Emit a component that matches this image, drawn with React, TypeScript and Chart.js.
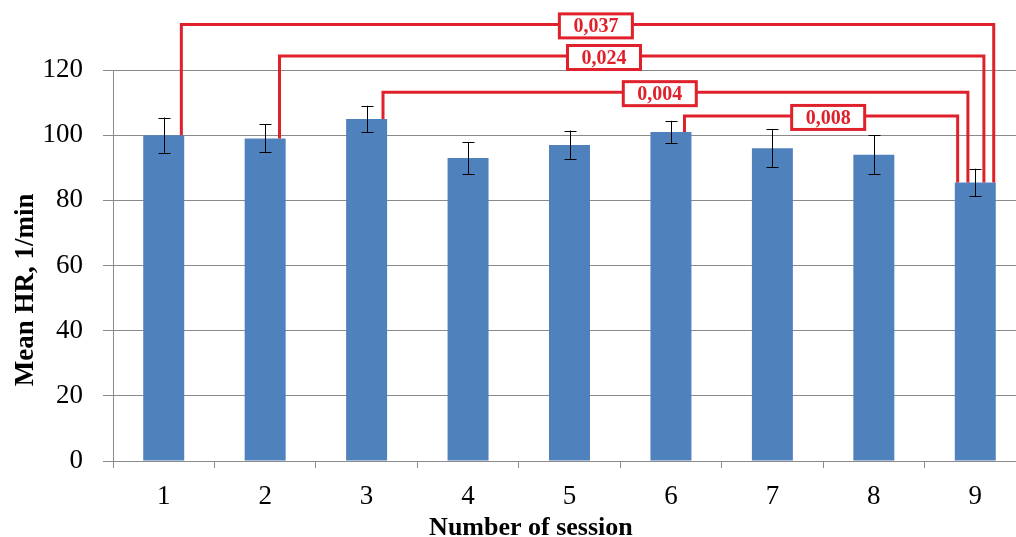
import { useEffect, useRef } from "react";
import { Chart, registerables } from "chart.js";

Chart.register(...registerables);

// Mean heart rate per session with standard deviation
const sessions = ["1", "2", "3", "4", "5", "6", "7", "8", "9"];
const meanHR = [100, 99, 105, 93, 97, 101, 96, 94, 85.5];
const sdHR = [5.4, 4.3, 4, 4.9, 4.4, 3.4, 5.8, 5.9, 4.2];
const yTicks = [0, 20, 40, 60, 80, 100, 120];

// Significant pairwise differences (session index pairs and p-values)
const pairFrom = [0, 1, 2, 5];
const pairTo = [8, 8, 8, 8];
const pValues = ["0,037", "0,024", "0,004", "0,008"];

// Drawing style for the significance brackets
const bracketLevels = [134, 124.3, 113.2, 105.9];
const startOffsets = [0.43, 0.35, 0.4, 0.33];
const endOffsets = [0.45, 0.21, -0.18, -0.43];
const labelCenters = [4.26, 4.34, 4.89, 6.55];

const X_TITLE = "Number of session";
const Y_TITLE = "Mean HR, 1/min";

const SERIF = "'Liberation Serif', 'Times New Roman', serif";
const RED = "#e0212b";
const GRID = "#8a8a8a";

const overlayPlugin = {
  id: "overlay",
  afterDatasetsDraw(chart: any) {
    const { ctx } = chart;
    const xs = chart.scales.x;
    const ys = chart.scales.y;
    const meta = chart.getDatasetMeta(0);

    // error bars
    ctx.save();
    ctx.strokeStyle = "#000";
    ctx.lineWidth = 1;
    meta.data.forEach((bar: any, i: number) => {
      const cx = Math.round(bar.x) + 0.5;
      const top = ys.getPixelForValue(meanHR[i] + sdHR[i]);
      const bot = ys.getPixelForValue(meanHR[i] - sdHR[i]);
      const cap = 6;
      ctx.beginPath();
      ctx.moveTo(cx, top);
      ctx.lineTo(cx, bot);
      ctx.moveTo(cx - cap, Math.round(top) + 0.5);
      ctx.lineTo(cx + cap, Math.round(top) + 0.5);
      ctx.moveTo(cx - cap, Math.round(bot) + 0.5);
      ctx.lineTo(cx + cap, Math.round(bot) + 0.5);
      ctx.stroke();
    });
    ctx.restore();

    // significance brackets
    ctx.save();
    ctx.strokeStyle = RED;
    ctx.lineWidth = 3;
    ctx.lineJoin = "miter";
    pairFrom.forEach((a, k) => {
      const b = pairTo[k];
      const barA = meta.data[a];
      const barB = meta.data[b];
      const xa = barA.x + barA.width * startOffsets[k];
      const xb = barB.x + barB.width * endOffsets[k];
      const yl = ys.getPixelForValue(bracketLevels[k]);
      ctx.beginPath();
      ctx.moveTo(xa, ys.getPixelForValue(meanHR[a]));
      ctx.lineTo(xa, yl);
      ctx.lineTo(xb, yl);
      ctx.lineTo(xb, ys.getPixelForValue(meanHR[b]));
      ctx.stroke();
    });
    ctx.font = `bold 20px ${SERIF}`;
    ctx.textAlign = "center";
    ctx.textBaseline = "middle";
    pValues.forEach((txt, k) => {
      const cx = xs.getPixelForValue(labelCenters[k]);
      const cy = ys.getPixelForValue(bracketLevels[k]) + 1.5;
      const w = 73;
      const h = 24;
      ctx.fillStyle = "#fff";
      ctx.fillRect(cx - w / 2, cy - h / 2, w, h);
      ctx.strokeRect(cx - w / 2, cy - h / 2, w, h);
      ctx.fillStyle = RED;
      ctx.fillText(txt, cx, cy + 1);
    });
    ctx.restore();

    // axis titles
    ctx.save();
    ctx.fillStyle = "#000";
    ctx.font = `bold 26px ${SERIF}`;
    ctx.textAlign = "center";
    ctx.textBaseline = "alphabetic";
    ctx.fillText(X_TITLE, xs.getPixelForValue(3.62), chart.height - 2);
    ctx.font = `bold 27px ${SERIF}`;
    ctx.translate(chart.chartArea.left - 87, ys.getPixelForValue(52.5));
    ctx.rotate(-Math.PI / 2);
    ctx.textBaseline = "middle";
    ctx.fillText(Y_TITLE, 0, 0);
    ctx.restore();
  },
};

export default function App() {
  const canvasRef = useRef<HTMLCanvasElement | null>(null);

  useEffect(() => {
    const canvas = canvasRef.current;
    if (!canvas) return;
    const chart = new Chart(canvas, {
      type: "bar",
      data: {
        labels: sessions,
        datasets: [
          {
            data: meanHR,
            backgroundColor: "#4f81bd",
            borderWidth: 0,
            categoryPercentage: 1,
            barPercentage: 0.404,
          },
        ],
      },
      options: {
        responsive: false,
        animation: false,
        devicePixelRatio: 1,
        layout: { padding: { top: 70, right: 4, bottom: 0, left: 0 } },
        plugins: {
          legend: { display: false },
          tooltip: { enabled: false },
        },
        scales: {
          x: {
            offset: true,
            grid: {
              offset: true,
              drawOnChartArea: false,
              drawTicks: true,
              tickLength: 7,
              color: GRID,
            },
            border: { color: GRID },
            ticks: {
              color: "#000",
              padding: 13,
              font: { family: SERIF, size: 27 },
            },
            afterFit: (scale: any) => {
              scale.height = 76;
            },
          },
          y: {
            min: 0,
            max: 120,
            afterBuildTicks: (scale: any) => {
              scale.ticks = yTicks.map((v) => ({ value: v }));
            },
            grid: { color: GRID, tickLength: 10 },
            border: { color: GRID },
            ticks: {
              color: "#000",
              padding: 20,
              font: { family: SERIF, size: 27 },
            },
            afterFit: (scale: any) => {
              scale.width = 113;
            },
          },
        },
      },
      plugins: [overlayPlugin],
    });
    return () => chart.destroy();
  }, []);

  return (
    <div style={{ position: "fixed", left: 0, top: 0, width: 1030, height: 537, background: "#fff" }}>
      <canvas ref={canvasRef} width={1030} height={537} />
    </div>
  );
}
